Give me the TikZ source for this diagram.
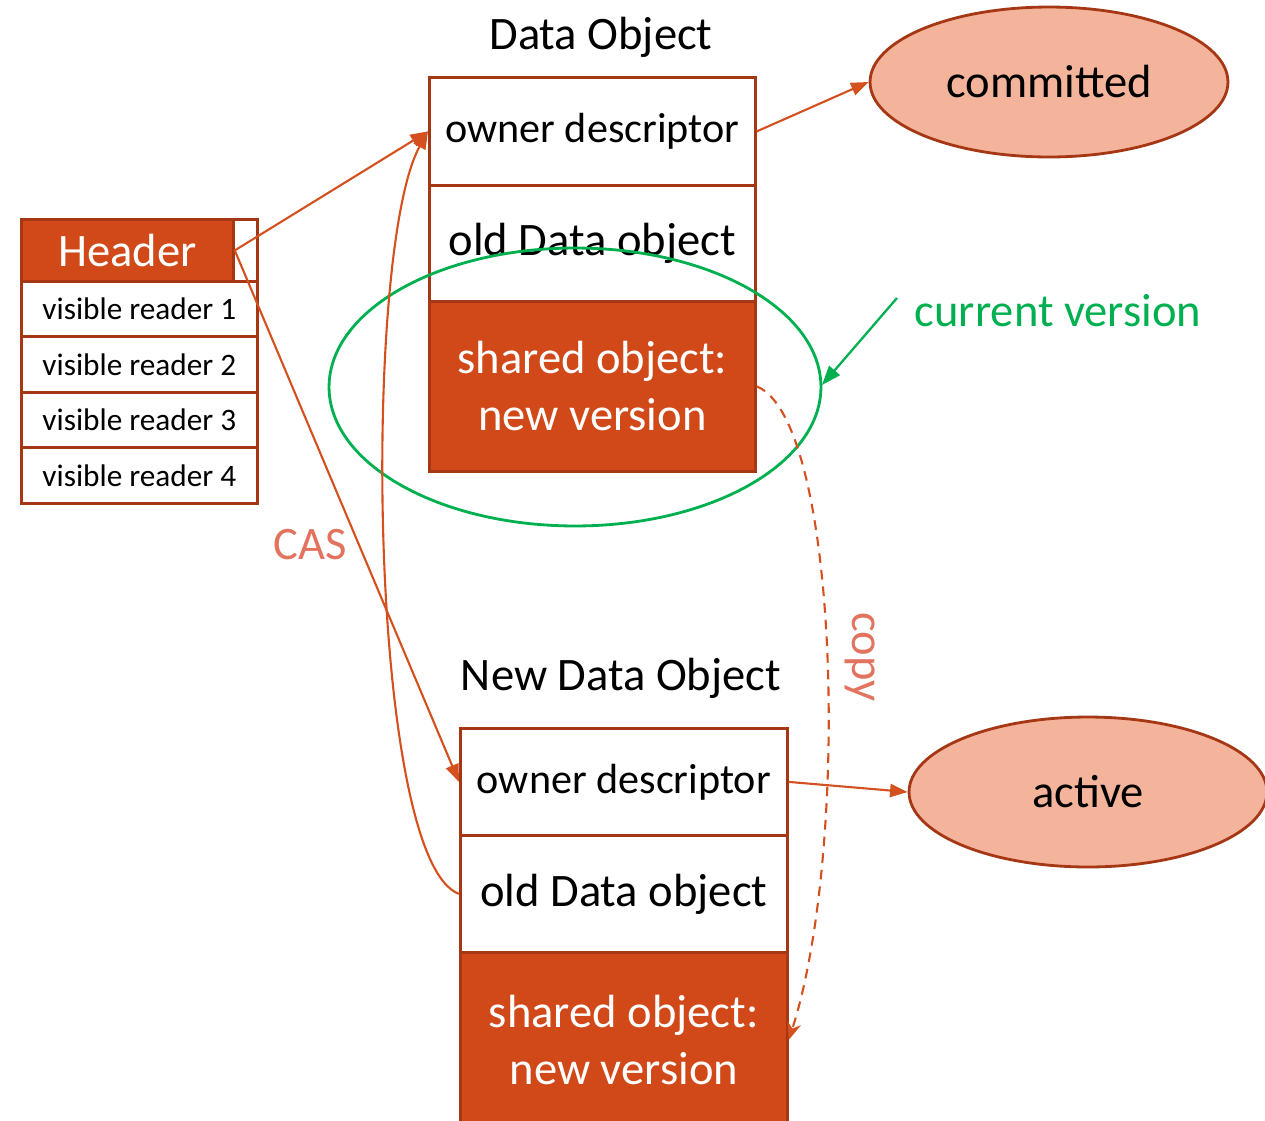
\documentclass[tikz,border=0pt]{standalone}
\usepackage{fontspec}
\setmainfont{Carlito}
\usepackage{tikz}
\usetikzlibrary{shapes.geometric, arrows.meta, calc}
\definecolor{arancio}{RGB}{209,73,25}
\definecolor{bordo}{RGB}{165,55,20}
\definecolor{linea}{RGB}{212,80,30}
\definecolor{salmone}{RGB}{244,180,155}
\definecolor{etichetta}{RGB}{226,115,95}
\definecolor{verde}{RGB}{0,176,80}
\newcommand{\grande}{\fontsize{26.5}{32.5}\selectfont}
\newcommand{\medio}{\fontsize{24}{28}\selectfont}
\newcommand{\piccolo}{\fontsize{17.8}{21}\selectfont}

\begin{document}
\begin{tikzpicture}[x = 0.02cm, y = -0.02cm,
    cella/.style = {draw = bordo, line width = 1.6pt, anchor = north west, inner sep = 0pt, minimum width = #1},
    freccia/.style = {draw = linea, line width = 1.2pt, -{Triangle[length = 10pt, width = 7.5pt]}},
    stato/.style = {ellipse, draw = bordo, fill = salmone, line width = 1.6pt, minimum width = 7.16cm, minimum height = 3cm, font = \grande}]
    \useasboundingbox (0,0) rectangle (1265,1120);
    % Header e lettori
    \node[cella = 4.24cm, minimum height = 1.24cm, fill = arancio, text = white, font = \grande] (hd) at (20,218) {Header};
    \node[cella = 0.48cm, minimum height = 1.24cm] (hc) at (232,218) {};
    \foreach \i in {1,...,4}
        \node[cella = 4.72cm, minimum height = 1.11cm, font = \piccolo] (vr\i) at (20,{280+55.5*(\i-1)}) {visible reader \i};
    % Data Object
    \node[font = \grande] (tit1) at (601,37) {Data Object};
    \node[cella = 6.52cm, minimum height = 2.16cm, font = \medio] (od1) at (428,76) {owner descriptor};
    \node[cella = 6.52cm, minimum height = 2.32cm, font = \grande] (old1) at (428,184) {old Data object};
    \node[cella = 6.52cm, minimum height = 3.4cm, fill = arancio, text = white, font = \grande, align = center] (sh1) at (428,300) {shared object:\\new version};
    % New Data Object
    \node[font = \grande] (tit2) at (621,678) {New Data Object};
    \node[cella = 6.54cm, minimum height = 2.14cm, font = \medio] (od2) at (459,727) {owner descriptor};
    \node[cella = 6.54cm, minimum height = 2.34cm, font = \grande] (old2) at (459,834) {old Data object};
    \node[cella = 6.54cm, minimum height = 3.5cm, fill = arancio, text = white, font = \grande, align = center] (sh2) at (459,951) {shared object:\\new version};
    % Stati
    \node[stato] (com) at (1049,82) {committed};
    \node[stato] (act) at (1088,792) {active};
    % Versione corrente
    \draw[verde, line width = 1.6pt] (575,387) ellipse [x radius = 4.92cm, y radius = 2.78cm];
    \node[text = verde, font = \grande] (cv) at (1058,311) {current version};
    \coordinate (cvA) at (897,298);
    \coordinate (cvB) at (822,385);
    \draw[verde, line width = 1.3pt, -{Triangle[length = 11pt, width = 8pt]}] (cvA) -- (cvB);
    % Frecce
    \draw[freccia] (hd.east) -- (od1.west);
    \draw[freccia] (hd.east) -- (od2.west);
    \draw[freccia] (old2.west) .. controls (368,860) and (362,250) .. (od1.west);
    \draw[freccia] (od1.east) -- (com.west);
    \draw[freccia] (od2.east) -- (act.west);
    \draw[linea, line width = 1.2pt, dash pattern = on 5.5pt off 4pt, -{Stealth[length = 10pt, width = 8pt]}] (sh1.east) .. controls (840,420) and (850,850) .. (sh2.east);
    % Etichette
    \node[text = etichetta, font = \grande] (cas) at (310,545) {CAS};
    \node[text = etichetta, font = \grande, rotate = -90] (cp) at (860,657) {copy};
\end{tikzpicture}
\end{document}
